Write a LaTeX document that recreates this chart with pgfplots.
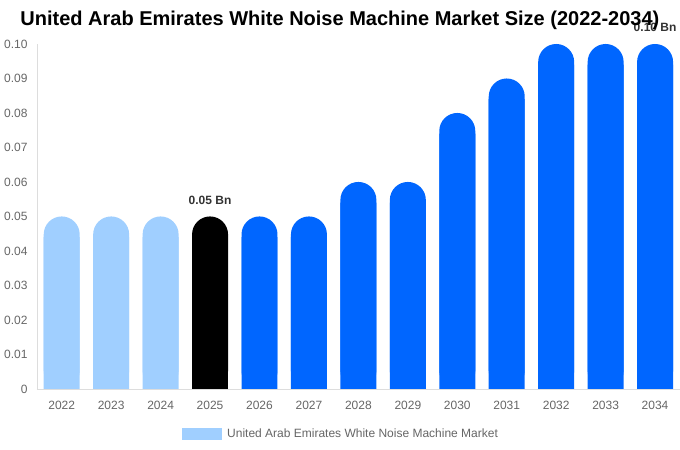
\documentclass[border=0pt]{standalone}
\usepackage{fontspec}
\setmainfont{Liberation Sans}
\usepackage{pgfplots}
\pgfplotsset{compat=1.18}

\definecolor{lightbar}{HTML}{A0CFFF}
\definecolor{bluebar}{HTML}{0066FF}
\definecolor{ticktext}{HTML}{666666}
\definecolor{labeltext}{HTML}{333333}
\definecolor{axisline}{HTML}{DDDDDD}

\begin{document}
\begin{tikzpicture}
\begin{axis}[
  at={(0pt,0pt)}, anchor=south west,
  scale only axis, width=643pt, height=345pt,
  xmin=-0.5, xmax=12.5, ymin=0, ymax=0.1,
  ybar, bar width=36pt,
  xtick={0,1,2,3,4,5,6,7,8,9,10,11,12},
  xticklabels={2022,2023,2024,2025,2026,2027,2028,2029,2030,2031,2032,2033,2034},
  ytick={0,0.01,0.02,0.03,0.04,0.05,0.06,0.07,0.08,0.09,0.1},
  yticklabels={0,0.01,0.02,0.03,0.04,0.05,0.06,0.07,0.08,0.09,0.10},
  axis x line*=bottom, axis y line*=left,
  axis line style={axisline},
  major tick length=0pt,
  tick label style={font=\fontsize{12}{14}\selectfont, text=ticktext},
  xticklabel style={yshift=-9pt},
  yticklabel style={xshift=-6pt},
  clip=false,
  legend style={at={(0.473,-0.1304)}, anchor=center, draw=none,
    font=\fontsize{12}{14}\selectfont, text=ticktext},
  legend image code/.code={\fill[lightbar, sharp corners] (0pt,-6pt) rectangle (40pt,6pt);},
  every node near coord/.append style={anchor=south, inner sep=0pt, yshift=12pt,
    font=\bfseries\fontsize{12}{14}\selectfont, text=labeltext},
]
% square lower parts, so that only the tops look rounded
\addplot[fill=lightbar, draw=none, bar shift=0pt, sharp corners, forget plot]
  coordinates {(0,0.044)(1,0.044)(2,0.044)};
\addplot[fill=lightbar, draw=none, bar shift=0pt, rounded corners=18pt]
  coordinates {(0,0.05)(1,0.05)(2,0.05)};
\addlegendentry{\hspace{3pt}United Arab Emirates White Noise Machine Market}

\addplot[fill=black, draw=none, bar shift=0pt, sharp corners, forget plot]
  coordinates {(3,0.044)};
\addplot[fill=black, draw=none, bar shift=0pt, rounded corners=18pt, forget plot,
  nodes near coords={0.05 Bn}]
  coordinates {(3,0.05)};

\addplot[fill=bluebar, draw=none, bar shift=0pt, sharp corners, forget plot]
  coordinates {(4,0.044)(5,0.044)(6,0.054)(7,0.054)(8,0.074)(9,0.084)(10,0.094)(11,0.094)(12,0.094)};
\addplot[fill=bluebar, draw=none, bar shift=0pt, rounded corners=18pt, forget plot]
  coordinates {(4,0.05)(5,0.05)(6,0.06)(7,0.06)(8,0.08)(9,0.09)(10,0.1)(11,0.1)};
\addplot[fill=bluebar, draw=none, bar shift=0pt, rounded corners=18pt, forget plot,
  nodes near coords={0.10 Bn}]
  coordinates {(12,0.1)};
\end{axis}
\node[font=\bfseries\fontsize{20}{24}\selectfont] at (303pt,369pt)
  {United Arab Emirates White Noise Machine Market Size (2022-2034)};
\path[use as bounding box] (-37pt,-61pt) rectangle (643pt,389pt);
\end{tikzpicture}
\end{document}
